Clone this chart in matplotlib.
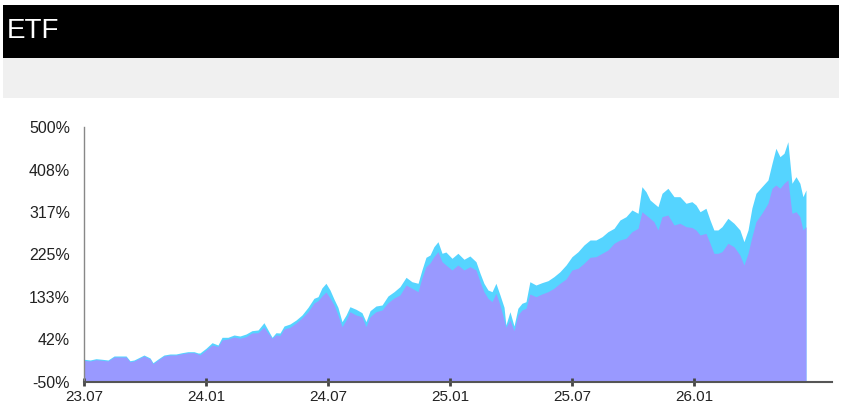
import matplotlib.pyplot as plt
from matplotlib.patches import Rectangle

# months since 2023-07
months = [0, 0.30, 0.59, 0.89, 1.18, 1.48, 1.77, 2.07, 2.26, 2.46, 2.66, 2.95, 3.25, 3.39,
          3.64, 3.93, 4.23, 4.52, 4.82, 5.11, 5.41, 5.61,
          5.70, 6.00, 6.30, 6.59, 6.79, 7.08, 7.38, 7.67, 7.97, 8.26, 8.56, 8.85, 9.05, 9.25,
          9.44, 9.64, 9.84, 10.13, 10.43, 10.72, 11.02, 11.31, 11.51,
          11.70, 11.90, 12.10, 12.30, 12.49, 12.69, 12.89, 13.08, 13.38, 13.67, 13.87, 14.07,
          14.36, 14.66, 14.95, 15.25, 15.54, 15.84, 16.13, 16.43, 16.62, 16.82, 17.02, 17.21,
          17.41, 17.61, 17.80, 18.10, 18.39, 18.69, 18.98, 19.28, 19.48, 19.67, 19.87, 20.07,
          20.26, 20.46, 20.66, 20.75, 20.95, 21.15, 21.34, 21.54, 21.74, 21.93, 22.23, 22.52,
          22.82, 23.11, 23.41, 23.71, 24.00, 24.30, 24.59, 24.89, 25.18, 25.48, 25.77, 26.07,
          26.36, 26.66, 26.95, 27.25, 27.44, 27.64, 27.84, 28.03, 28.23, 28.43, 28.72, 29.02,
          29.31, 29.61, 29.90, 30.10, 30.30, 30.59, 30.79, 30.98, 31.18, 31.38, 31.67, 31.97,
          32.26, 32.46, 32.66, 32.85, 33.05, 33.34, 33.64, 33.84, 34.03, 34.23, 34.43, 34.62,
          34.82, 35.02, 35.21, 35.36, 35.51]

etf_a = [-1.0, -2.5, 0.3, -1.0, -2.5, 6.1, 6.1, 6.1, -4.1, -2.5, 1.8, 8.2, 1.8, -8.4,
         -0.4, 8.2, 10.4, 10.4, 13.2, 15.4, 15.4, 12.6,
         12.6, 22.7, 34.8, 29.8, 46.4, 46.4, 51.4, 49.2, 53.5, 60.7, 62.2, 77.9, 62.2, 46.4,
         56.3, 55.7, 70.8, 75.1, 83.7, 94.5, 111.1, 130.5, 134.0,
         152.8, 162.9, 148.4, 128.4, 111.1, 80.1, 94.5, 112.4, 106.8, 99.5, 80.1, 103.8,
         113.9, 116.1, 135.5, 144.8, 155.6, 175.8, 166.3, 162.9, 191.6, 219.0, 223.9, 241.8,
         252.6, 227.6, 230.4, 216.8, 227.6, 214.7, 221.8, 209.5, 184.5, 162.9, 148.4, 144.8,
         162.9, 137.7, 111.1, 73.0, 101.6, 70.8, 109.0, 119.8, 123.2, 166.3, 159.2, 164.2,
         168.5, 177.1, 187.9, 202.4, 220.3, 231.1, 245.5, 256.3, 256.3, 263.4, 274.2, 281.5,
         299.4, 306.6, 321.0, 313.9, 371.3, 360.5, 342.6, 335.5, 328.1, 357.0, 367.8, 349.7,
         349.7, 335.5, 338.9, 331.8, 317.3, 324.7, 299.4, 277.9, 277.9, 285.0, 303.1, 292.3,
         277.9, 252.6, 277.9, 325.3, 357.0, 371.3, 385.7, 421.7, 454.1, 436.0, 443.3, 468.3,
         378.6, 392.8, 378.6, 349.7, 364.2]

etf_b = [-3.2, -4.7, -1.9, -3.2, -4.7, 3.9, 3.9, 3.9, -6.3, -4.7, -0.4, 6.0, -0.4, -10.6,
         -2.6, 6.0, 8.2, 8.2, 11.0, 13.2, 13.2, 10.4,
         8.2, 19.0, 29.8, 26.6, 40.6, 42.8, 47.1, 44.3, 47.7, 55.7, 56.3, 68.6, 55.7, 44.3,
         51.4, 50.3, 64.3, 68.0, 77.3, 88.0, 101.6, 120.4, 125.4,
         135.5, 144.1, 131.2, 116.1, 94.5, 69.3, 83.7, 101.6, 94.5, 90.9, 69.3, 90.9,
         101.6, 105.3, 121.0, 131.2, 137.7, 159.2, 152.1, 144.8, 174.3, 198.7, 206.7, 220.3,
         231.1, 209.5, 202.4, 191.6, 202.4, 191.6, 198.7, 191.6, 166.3, 144.8, 130.5, 123.2,
         141.3, 116.1, 83.7, 68.0, 83.7, 60.7, 94.5, 105.3, 109.0, 139.8, 134.0, 139.8,
         144.8, 152.1, 162.9, 172.2, 191.6, 195.3, 206.0, 219.0, 220.3, 227.6, 234.7, 249.2,
         256.3, 260.0, 274.2, 281.5, 317.3, 310.2, 303.1, 295.8, 277.9, 306.6, 310.2, 288.6,
         292.3, 285.0, 283.3, 277.9, 267.1, 270.7, 249.2, 227.6, 227.6, 231.1, 249.2, 241.8,
         223.9, 202.4, 227.6, 262.8, 295.8, 313.9, 335.5, 367.8, 374.9, 367.8, 378.6, 385.7,
         313.9, 317.3, 306.6, 277.9, 285.0]

tick_pos = [0, 6, 12, 18, 24, 30]
tick_labels = ['23.07', '24.01', '24.07', '25.01', '25.07', '26.01']
y_ticks = [-50, 41.67, 133.33, 225, 316.67, 408.33, 500]
y_labels = ['-50%', '42%', '133%', '225%', '317%', '408%', '500%']

plt.rcParams['font.family'] = ['Liberation Sans', 'DejaVu Sans']

fig = plt.figure(figsize=(8.42, 4.08), dpi=100)
W, H = 842, 408

# header bars
fig.patches.append(Rectangle((3 / W, 1 - 58 / H), 836 / W, 53 / H, transform=fig.transFigure,
                             facecolor='black', edgecolor='none'))
fig.patches.append(Rectangle((3 / W, 1 - 98 / H), 836 / W, 40 / H, transform=fig.transFigure,
                             facecolor='#f0f0f0', edgecolor='none'))
fig.text(7 / W, 1 - 31 / H, 'ETF', color='white', fontsize=20, va='center', ha='left')

ax = fig.add_axes([84 / W, 26 / H, 748 / W, 255 / H])
ax.fill_between(months, -50, etf_a, color='#55d4ff', linewidth=0)
ax.fill_between(months, -50, etf_b, color='#9999ff', linewidth=0)

ax.set_xlim(0, 36.79)
ax.set_ylim(-50, 500)
ax.set_yticks(y_ticks)
ax.set_yticklabels(y_labels)
ax.set_xticks(tick_pos)
ax.set_xticklabels(tick_labels)
ax.tick_params(axis='y', length=0, pad=10, labelsize=11.5, labelcolor='#222222')
ax.tick_params(axis='x', length=6, width=2, color='#444444', direction='inout', pad=3,
               labelsize=11, labelcolor='#222222')

for s in ['top', 'right']:
    ax.spines[s].set_visible(False)
ax.spines['left'].set_color('#888888')
ax.spines['left'].set_linewidth(1)
ax.spines['bottom'].set_color('#555555')
ax.spines['bottom'].set_linewidth(1.5)

fig.savefig('out.png', dpi=100)
